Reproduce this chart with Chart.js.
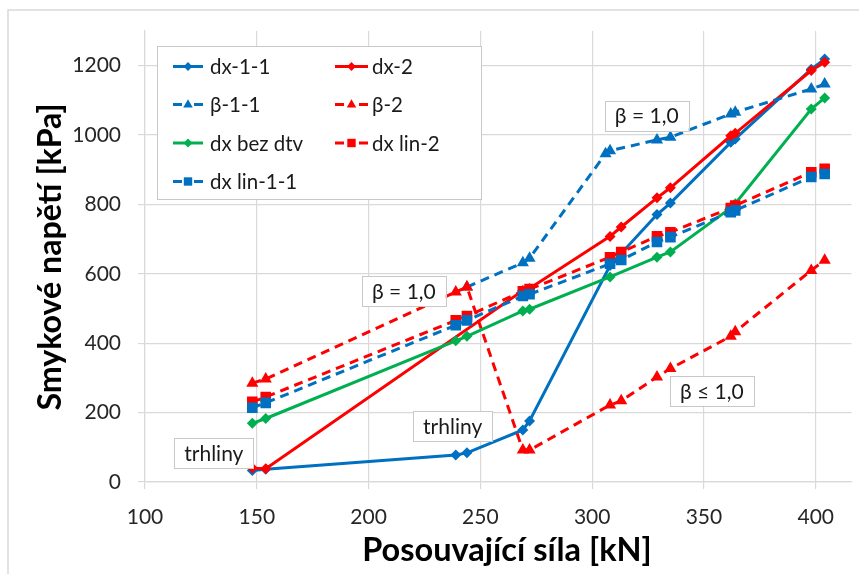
<!DOCTYPE html>
<html><head><meta charset="utf-8">
<script src="https://cdn.jsdelivr.net/npm/chart.js@4.4.1/dist/chart.umd.min.js"></script>
<style>html,body{margin:0;padding:0;background:#fff;}canvas{display:block;}</style>
</head><body>
<canvas id="c" width="859" height="574"></canvas>
<script>
// ---- data ----
const dx11X    = [148,154,239,244,269,272,308,329,335,362,364,398,404];
const dx11Y    = [33,37,78,84,150,176,624,771,804,979,989,1190,1219];
const dx2X     = [148,154,269,272,308,313,329,335,362,364,398,404];
const dx2Y     = [40,38,552,558,708,735,819,848,998,1005,1186,1210];
const beta11X  = [244,269,272,306,308,329,335,362,364,398,404];
const beta11Y  = [562,632,645,946,955,986,994,1061,1066,1133,1147];
const beta2X   = [148,154,239,244,269,272,308,313,329,335,362,364,398,404];
const beta2Y   = [285,297,548,562,92,92,222,234,303,327,420,433,610,639];
const bezDtvX  = [148,154,239,244,269,272,308,329,335,362,364,398,404];
const bezDtvY  = [169,183,407,420,493,498,591,648,663,790,802,1075,1107];
const linX     = [148,154,239,244,269,272,308,313,329,335,362,364,398,404];
const lin2Y    = [231,245,466,478,550,556,648,663,708,720,790,797,893,903];
const lin11Y   = [214,228,452,466,536,541,629,640,692,706,778,783,879,888];
const seriesNames = ['dx-1-1','dx-2','β-1-1','β-2','dx bez dtv','dx lin-2','dx lin-1-1'];
const xTicks = [100,150,200,250,300,350,400];
const yTicks = [0,200,400,600,800,1000,1200];
const annotations = [
  {text:'trhliny', x:130.8, y:83},
  {text:'trhliny', x:237.6, y:161},
  {text:'β = 1,0', x:215.8, y:550},
  {text:'β = 1,0', x:324.4, y:1056},
  {text:'β ≤ 1,0', x:353.5, y:263}
];
const xTitle = 'Posouvající síla [kN]';
const yTitle = 'Smykové napětí [kPa]';

const BLUE='#0070C0', RED='#FF0000', GREEN='#00B050';
const FONT='Lato, "Open Sans", sans-serif';
const pts = (xs, ys) => xs.map((x,i)=>({x, y:ys[i]}));

const styles = [
  {color:BLUE, dash:[], marker:'rectRot', r:5.5},
  {color:RED, dash:[], marker:'rectRot', r:5.5},
  {color:BLUE, dash:[9,6], marker:'triangle', r:7},
  {color:RED, dash:[9,6], marker:'triangle', r:7},
  {color:GREEN, dash:[], marker:'rectRot', r:5.5},
  {color:RED, dash:[9,6], marker:'rect', r:7.5},
  {color:BLUE, dash:[9,6], marker:'rect', r:7.5}
];
const dataList = [
  pts(dx11X, dx11Y), pts(dx2X, dx2Y), pts(beta11X, beta11Y), pts(beta2X, beta2Y),
  pts(bezDtvX, bezDtvY), pts(linX, lin2Y), pts(linX, lin11Y)
];
const datasets = seriesNames.map((n,i)=>({
  label:n, data:dataList[i], borderColor:styles[i].color, backgroundColor:styles[i].color,
  borderWidth:3, borderDash:styles[i].dash, pointStyle:styles[i].marker,
  pointRadius:styles[i].r, pointBorderWidth:0, pointBorderColor:styles[i].color,
  tension:0, fill:false, order:6-i
}));

function marker(ctx, style, x, y, r, color){
  ctx.save(); ctx.fillStyle=color; ctx.beginPath();
  if(style==='rectRot'){ ctx.moveTo(x,y-r); ctx.lineTo(x+r,y); ctx.lineTo(x,y+r); ctx.lineTo(x-r,y); }
  else if(style==='triangle'){ ctx.moveTo(x,y-r*0.95); ctx.lineTo(x+r*0.85,y+r*0.55); ctx.lineTo(x-r*0.85,y+r*0.55); }
  else { ctx.rect(x-r*0.7,y-r*0.7,r*1.4,r*1.4); }
  ctx.closePath(); ctx.fill(); ctx.restore();
}
function fitFont(ctx, text, weight, target){
  ctx.font = weight+' 20px '+FONT;
  const w = ctx.measureText(text).width;
  return weight+' '+(20*target/w).toFixed(1)+'px '+FONT;
}

const extras = {
  id:'extras',
  beforeDraw(chart){
    const ctx=chart.ctx; ctx.save();
    ctx.fillStyle='#fff'; ctx.fillRect(0,0,chart.width,chart.height);
    ctx.strokeStyle='#d9d9d9'; ctx.lineWidth=1.5;
    ctx.beginPath(); ctx.moveTo(8,chart.height); ctx.lineTo(8,10); ctx.lineTo(chart.width,10); ctx.stroke();
    ctx.restore();
  },
  afterDraw(chart){
    const ctx=chart.ctx, xs=chart.scales.x, ys=chart.scales.y;
    ctx.save();
    // annotations
    ctx.font='21px '+FONT; ctx.textAlign='center'; ctx.textBaseline='middle';
    annotations.forEach(a=>{
      const cx=xs.getPixelForValue(a.x), cy=ys.getPixelForValue(a.y);
      const w=ctx.measureText(a.text).width+20, h=30;
      ctx.fillStyle='#fff'; ctx.fillRect(cx-w/2,cy-h/2,w,h);
      ctx.strokeStyle='#c8c8c8'; ctx.lineWidth=1; ctx.strokeRect(Math.round(cx-w/2)+0.5,Math.round(cy-h/2)+0.5,Math.round(w),h);
      ctx.fillStyle='#1a1a1a'; ctx.fillText(a.text,cx,cy+1);
    });
    // legend
    const L={x:157,y:46,w:324,h:153};
    ctx.fillStyle='#fff'; ctx.fillRect(L.x,L.y,L.w,L.h);
    ctx.strokeStyle='#c8c8c8'; ctx.lineWidth=1; ctx.strokeRect(L.x+0.5,L.y+0.5,L.w,L.h);
    const rows=[66.5,104.5,143,181.5], cols=[{l:173,r:203,t:210},{l:335,r:368,t:372}];
    ctx.font='20.5px '+FONT; ctx.textAlign='left'; ctx.textBaseline='middle';
    seriesNames.forEach((n,i)=>{
      const c=cols[i%2], y=rows[Math.floor(i/2)], s=styles[i];
      ctx.strokeStyle=s.color; ctx.lineWidth=3;
      ctx.beginPath();
      if(s.dash.length){ ctx.moveTo(c.l,y); ctx.lineTo(c.l+9,y); ctx.moveTo(c.r-9,y); ctx.lineTo(c.r,y); }
      else { ctx.moveTo(c.l,y); ctx.lineTo(c.r,y); }
      ctx.stroke();
      marker(ctx,s.marker,(c.l+c.r)/2,y,s.r*0.8,s.color);
      ctx.fillStyle='#1a1a1a'; ctx.fillText(n,c.t,y+1);
    });
    // axis titles
    ctx.fillStyle='#000'; ctx.textAlign='center'; ctx.textBaseline='middle';
    ctx.font=fitFont(ctx,xTitle,'bold',290);
    ctx.fillText(xTitle,507,551);
    ctx.font=fitFont(ctx,yTitle,'bold',307);
    ctx.save(); ctx.translate(51,257); ctx.rotate(-Math.PI/2); ctx.fillText(yTitle,0,0); ctx.restore();
    ctx.restore();
  }
};

new Chart(document.getElementById('c'), {
  type:'line',
  data:{datasets},
  options:{
    responsive:false, animation:false,
    layout:{padding:{top:31,left:0,right:0,bottom:0}},
    plugins:{legend:{display:false}, tooltip:{enabled:false}},
    scales:{
      x:{type:'linear', min:100, max:416,
        afterBuildTicks:s=>{s.ticks=xTicks.map(v=>({value:v}));},
        afterFit:s=>{s.height=92;},
        ticks:{font:{family:FONT,size:21}, color:'#262626', padding:16, callback:v=>String(v), maxRotation:0},
        grid:{color:'#d9d9d9', lineWidth:1.2, tickLength:7, drawTicks:true},
        border:{color:'#d9d9d9', width:1.2}
      },
      y:{type:'linear', min:0, max:1300,
        afterBuildTicks:s=>{s.ticks=yTicks.map(v=>({value:v}));},
        afterFit:s=>{s.width=145;},
        ticks:{font:{family:FONT,size:21}, color:'#262626', padding:17, callback:v=>String(v)},
        grid:{color:'#d9d9d9', lineWidth:1.2, tickLength:7},
        border:{color:'#d9d9d9', width:1.2}
      }
    }
  },
  plugins:[extras]
});
</script>
</body></html>
